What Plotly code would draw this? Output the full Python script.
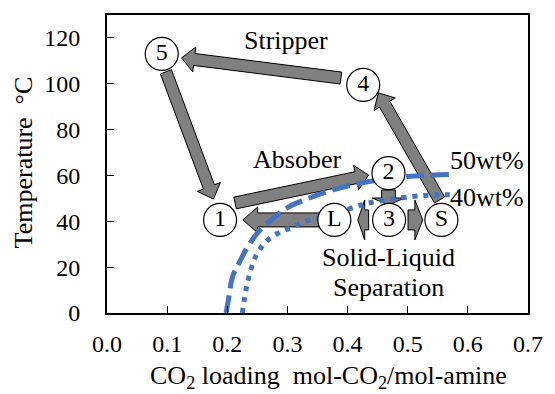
import numpy as np
import plotly.graph_objects as go

# Solubility boundaries: CO2 loading (mol-CO2/mol-amine) vs temperature (deg C)
loading_50wt = [0.198, 0.202, 0.209, 0.220, 0.232, 0.252, 0.275, 0.300, 0.335, 0.380, 0.435, 0.500, 0.570]
temp_50wt = [0.0, 6.0, 16.0, 22.0, 28.0, 35.5, 41.0, 46.0, 50.0, 54.0, 57.3, 59.5, 60.4]

loading_40wt = [0.225, 0.231, 0.236, 0.247, 0.264, 0.286, 0.308, 0.335, 0.365, 0.414, 0.435, 0.507, 0.545, 0.570]
temp_40wt = [0.0, 10.0, 15.9, 24.6, 31.0, 35.0, 37.5, 40.5, 42.3, 46.4, 48.0, 50.8, 51.5, 51.6]

# Cycle state points
state_labels = ["1", "2", "3", "4", "5", "L", "S"]
state_loading = [0.188, 0.468, 0.469, 0.426, 0.091, 0.378, 0.556]
state_temp = [40.6, 61.0, 40.6, 99.5, 113.0, 40.6, 40.6]

# Process arrows (tail -> tip) in loading / temperature units
arrow_from_loading = [0.389, 0.098, 0.213, 0.353, 0.553, 0.468, 0.435, 0.5005]
arrow_from_temp = [102.5, 105.2, 48.0, 40.6, 49.3, 53.7, 40.6, 40.6]
arrow_to_loading = [0.124, 0.177, 0.435, 0.226, 0.451, 0.468, 0.417, 0.525]
arrow_to_temp = [111.3, 49.7, 60.2, 40.6, 96.0, 47.1, 40.6, 40.6]

# Text labels
note_texts = ["Stripper", "Absober", "Solid-Liquid", "Separation", "50wt%", "40wt%"]
note_loading = [0.297, 0.316, 0.468, 0.468, 0.632, 0.632]
note_temp = [119.0, 67.0, 24.0, 11.0, 66.6, 50.6]

x_ticks = [0.0, 0.1, 0.2, 0.3, 0.4, 0.5, 0.6, 0.7]
y_ticks = [0, 20, 40, 60, 80, 100, 120]

# ---- figure geometry ----
W, H = 555, 394
ML, MR, MT, MB = 107, 20, 15, 81
PW, PH = W - ML - MR, H - MT - MB
XR = (0.0, 0.7)
YR = (0.0, 130.0)

FONT = "Liberation Serif"
BLUE = "#4472C4"


def to_px(x, y):
    return (np.array([(x - XR[0]) / (XR[1] - XR[0]) * PW,
                      (1 - (y - YR[0]) / (YR[1] - YR[0])) * PH]))


def to_data(p):
    return (XR[0] + p[0] / PW * (XR[1] - XR[0]),
            YR[0] + (1 - p[1] / PH) * (YR[1] - YR[0]))


def block_arrow(x0, y0, x1, y1, shaft, head_w, head_l):
    p0, p1 = to_px(x0, y0), to_px(x1, y1)
    d = p1 - p0
    u = d / np.hypot(*d)
    n = np.array([-u[1], u[0]])
    b = p1 - u * head_l
    pts = [p0 + n * shaft / 2, b + n * shaft / 2, b + n * head_w / 2, p1,
           b - n * head_w / 2, b - n * shaft / 2, p0 - n * shaft / 2]
    coords = [to_data(p) for p in pts]
    return "M " + " L ".join(f"{cx:.5f},{cy:.5f}" for cx, cy in coords) + " Z"


# shaft width, head width, head length (pixels) per arrow
arrow_style = [(12, 25, 13)] * 3 + [(14, 26, 15), (12, 25, 13)] + [(14, 33, 7), (20, 40, 7), (20, 40, 8)]

fig = go.Figure()

fig.add_trace(go.Scatter(x=loading_50wt, y=temp_50wt, mode="lines", line_shape="spline",
                         line=dict(color=BLUE, width=5, dash="18px,7px"),
                         showlegend=False, hoverinfo="skip"))
fig.add_trace(go.Scatter(x=loading_40wt, y=temp_40wt, mode="lines", line_shape="spline",
                         line=dict(color=BLUE, width=5, dash="5px,6px"),
                         showlegend=False, hoverinfo="skip"))

shapes = []
for i in range(len(arrow_from_loading)):
    s, hw, hl = arrow_style[i]
    shapes.append(dict(type="path", xref="x", yref="y", layer="below",
                       path=block_arrow(arrow_from_loading[i], arrow_from_temp[i],
                                        arrow_to_loading[i], arrow_to_temp[i], s, hw, hl),
                       fillcolor="#808080", line=dict(color="black", width=1)))

fig.add_trace(go.Scatter(x=state_loading, y=state_temp, mode="markers+text",
                         text=state_labels, textposition="middle center",
                         textfont=dict(family=FONT, size=24, color="black"),
                         marker=dict(size=33, color="white", line=dict(color="black", width=1.2)),
                         showlegend=False, hoverinfo="skip"))

annotations = []
for t, x, y in zip(note_texts, note_loading, note_temp):
    annotations.append(dict(x=x, y=y, xref="x", yref="y", text=t, showarrow=False,
                            font=dict(family=FONT, size=26, color="black"),
                            xanchor="center", yanchor="middle"))

annotations.append(dict(x=(332 - ML) / PW, y=(MT + PH - 377) / PH, xref="paper", yref="paper",
                        text="CO<sub>2</sub> loading  mol-CO<sub>2</sub>/mol-amine",
                        showarrow=False, font=dict(family=FONT, size=26, color="black"),
                        xanchor="center", yanchor="middle"))
annotations.append(dict(x=(22 - ML) / PW, y=(MT + PH - 162) / PH, xref="paper", yref="paper",
                        text="Temperature  °C", textangle=-90,
                        showarrow=False, font=dict(family=FONT, size=26, color="black"),
                        xanchor="center", yanchor="middle"))

fig.update_layout(
    width=W, height=H,
    margin=dict(l=ML, r=MR, t=MT, b=MB),
    paper_bgcolor="white", plot_bgcolor="white",
    shapes=shapes, annotations=annotations,
    font=dict(family=FONT, color="black"),
)
fig.update_xaxes(range=list(XR), tickvals=x_ticks, ticktext=[f"{v:.1f}" for v in x_ticks],
                 ticks="inside", ticklen=7, tickwidth=1, tickcolor="black",
                 showline=True, linecolor="black", linewidth=2, mirror=True,
                 showgrid=False, zeroline=False, ticklabelstandoff=8,
                 tickfont=dict(family=FONT, size=24, color="black"))
fig.update_yaxes(range=list(YR), tickvals=y_ticks,
                 ticks="inside", ticklen=7, tickwidth=1, tickcolor="black",
                 showline=True, linecolor="black", linewidth=2, mirror=True,
                 showgrid=False, zeroline=False, ticklabelstandoff=20,
                 tickfont=dict(family=FONT, size=24, color="black"))

fig.write_html("out.html")
